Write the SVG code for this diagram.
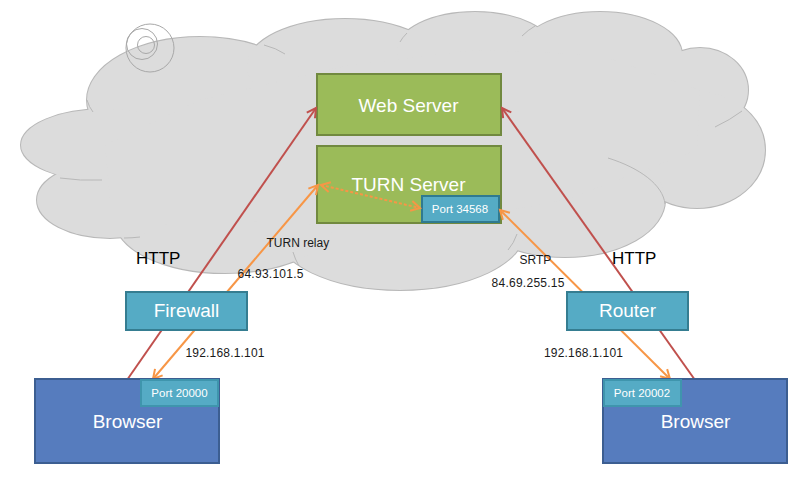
<svg xmlns="http://www.w3.org/2000/svg" width="800" height="477" viewBox="0 0 800 477">
<style>
.lobeS{fill:none;stroke:#B8B8B8;stroke-width:2}
.lobeF{fill:#DCDCDC;stroke:none}
.tail{fill:none;stroke:#B8B8B8;stroke-width:1}
.green{fill:#9BBB59;stroke:#71893F;stroke-width:2}
.teal{fill:#55ABC5;stroke:#357D91;stroke-width:2}
.port{fill:#55ABC5;stroke:#3F95AD;stroke-width:2}
.blue{fill:#567CBE;stroke:#3C5E91;stroke-width:2}
.big{font-family:"Liberation Sans",Arial,sans-serif;font-size:19px;fill:#FFFFFF;text-anchor:middle}
.small{font-family:"Liberation Sans",Arial,sans-serif;font-size:11.5px;fill:#FFFFFF;text-anchor:middle}
.lbl{font-family:"Liberation Sans",Arial,sans-serif;font-size:12px;fill:#1A1A1A}
.http{font-family:"Liberation Sans",Arial,sans-serif;font-size:17px;fill:#000000}
.red{fill:none;stroke:#C0504D;stroke-width:2}
.orange{fill:none;stroke:#F79646;stroke-width:2}
</style>
<defs>
<marker id="arR" markerUnits="userSpaceOnUse" markerWidth="16" markerHeight="16" viewBox="-12 -8 16 16" refX="0" refY="0" orient="auto-start-reverse"><path d="M-9,-5 L0,0 L-9,5" fill="none" stroke="#C0504D" stroke-width="2"/></marker>
<marker id="arO" markerUnits="userSpaceOnUse" markerWidth="16" markerHeight="16" viewBox="-12 -8 16 16" refX="0" refY="0" orient="auto-start-reverse"><path d="M-9,-5 L0,0 L-9,5" fill="none" stroke="#F79646" stroke-width="2"/></marker>
</defs>
<rect width="800" height="477" fill="#FFFFFF"/>
<g id="cloud">
<g class="lobeS">
<ellipse cx="200" cy="100" rx="113" ry="63"/>
<ellipse cx="345" cy="66" rx="98" ry="47"/>
<ellipse cx="475" cy="50" rx="78" ry="38"/>
<ellipse cx="600" cy="55" rx="82" ry="43"/>
<ellipse cx="700" cy="90" rx="48" ry="42"/>
<ellipse cx="697" cy="150" rx="68" ry="58"/>
<ellipse cx="565" cy="200" rx="100" ry="57"/>
<ellipse cx="400" cy="230" rx="125" ry="60"/>
<ellipse cx="225" cy="220" rx="110" ry="53"/>
<ellipse cx="110" cy="200" rx="73" ry="38"/>
<ellipse cx="105" cy="145" rx="84" ry="36"/>
</g>
<g class="lobeF">
<ellipse cx="200" cy="100" rx="113" ry="63"/>
<ellipse cx="345" cy="66" rx="98" ry="47"/>
<ellipse cx="475" cy="50" rx="78" ry="38"/>
<ellipse cx="600" cy="55" rx="82" ry="43"/>
<ellipse cx="700" cy="90" rx="48" ry="42"/>
<ellipse cx="697" cy="150" rx="68" ry="58"/>
<ellipse cx="565" cy="200" rx="100" ry="57"/>
<ellipse cx="400" cy="230" rx="125" ry="60"/>
<ellipse cx="225" cy="220" rx="110" ry="53"/>
<ellipse cx="110" cy="200" rx="73" ry="38"/>
<ellipse cx="105" cy="145" rx="84" ry="36"/>
<polygon points="200,100 345,66 475,50 600,55 700,90 697,150 565,200 400,230 225,220 110,200 105,145"/>
</g>
<g class="tail">
<path d="M264,45 Q276,48 285,54"/>
<path d="M742,111 Q730,120 715,127"/>
<path d="M608,158 C640,168 663,185 665,204"/>
<path d="M293,252 Q295,259 299,266"/>
<path d="M508,250 Q514,243 517,234"/>
<path d="M60,178 Q80,181 102,180"/>
<path d="M87,100 Q89,107 93,112"/>
<path d="M124,238 Q132,238 140,237"/>
<path d="M400,42 Q402,38 407,33"/>
<path d="M522,36 Q528,30 535,26"/>
</g>
<g fill="none" stroke="#A8A8A8" stroke-width="1">
<circle cx="150" cy="48" r="24"/>
<circle cx="142" cy="44" r="15.5"/>
<circle cx="146" cy="45" r="8.5"/>
</g>
</g>
<g id="web-server">
<rect class="green" x="317" y="74" width="184" height="61"/>
<text class="big" x="408.5" y="112">Web Server</text>
</g>
<g id="turn-server">
<rect class="green" x="317" y="146" width="184" height="77"/>
<text class="big" x="408.5" y="191">TURN Server</text>
</g>
<g id="port-34568">
<rect x="422" y="196" width="77" height="26" fill="#55ABC5" stroke="#2F7A90" stroke-width="2"/>
<text class="small" x="460" y="213">Port 34568</text>
</g>
<g id="connectors">
<line class="red" x1="127" y1="380" x2="316" y2="108" marker-end="url(#arR)"/>
<line class="red" x1="695" y1="380" x2="502" y2="108" marker-end="url(#arR)"/>
<line class="orange" x1="153" y1="379" x2="318" y2="185" marker-start="url(#arO)" marker-end="url(#arO)"/>
<line class="orange" x1="670" y1="379" x2="500" y2="210" marker-start="url(#arO)" marker-end="url(#arO)"/>
<line class="orange" x1="321" y1="185" x2="420" y2="208" stroke-dasharray="3 2" marker-start="url(#arO)" marker-end="url(#arO)"/>
</g>
<g id="firewall">
<rect class="teal" x="126" y="292" width="121" height="38"/>
<text class="big" x="186.5" y="317">Firewall</text>
</g>
<g id="router">
<rect class="teal" x="567" y="292" width="121" height="38"/>
<text class="big" x="627.5" y="317">Router</text>
</g>
<g id="browser-left">
<rect class="blue" x="35" y="379" width="184" height="84"/>
<rect class="port" x="141" y="380" width="77" height="26"/>
<text class="small" x="179.5" y="397">Port 20000</text>
<text class="big" x="127.5" y="428">Browser</text>
</g>
<g id="browser-right">
<rect class="blue" x="603" y="379" width="184" height="84"/>
<rect class="port" x="604" y="380" width="77" height="26"/>
<text class="small" x="642" y="397">Port 20002</text>
<text class="big" x="695.5" y="428">Browser</text>
</g>
<g id="labels">
<text class="lbl" x="266.5" y="247">TURN relay</text>
<text class="lbl" x="237.5" y="278" textLength="66">64.93.101.5</text>
<text class="lbl" x="519.5" y="264">SRTP</text>
<text class="lbl" x="491.5" y="287" textLength="73">84.69.255.15</text>
<text class="lbl" x="185.5" y="357" textLength="79">192.168.1.101</text>
<text class="lbl" x="544" y="357" textLength="79">192.168.1.101</text>
<text class="http" x="136" y="264">HTTP</text>
<text class="http" x="612" y="264">HTTP</text>
</g>
</svg>
